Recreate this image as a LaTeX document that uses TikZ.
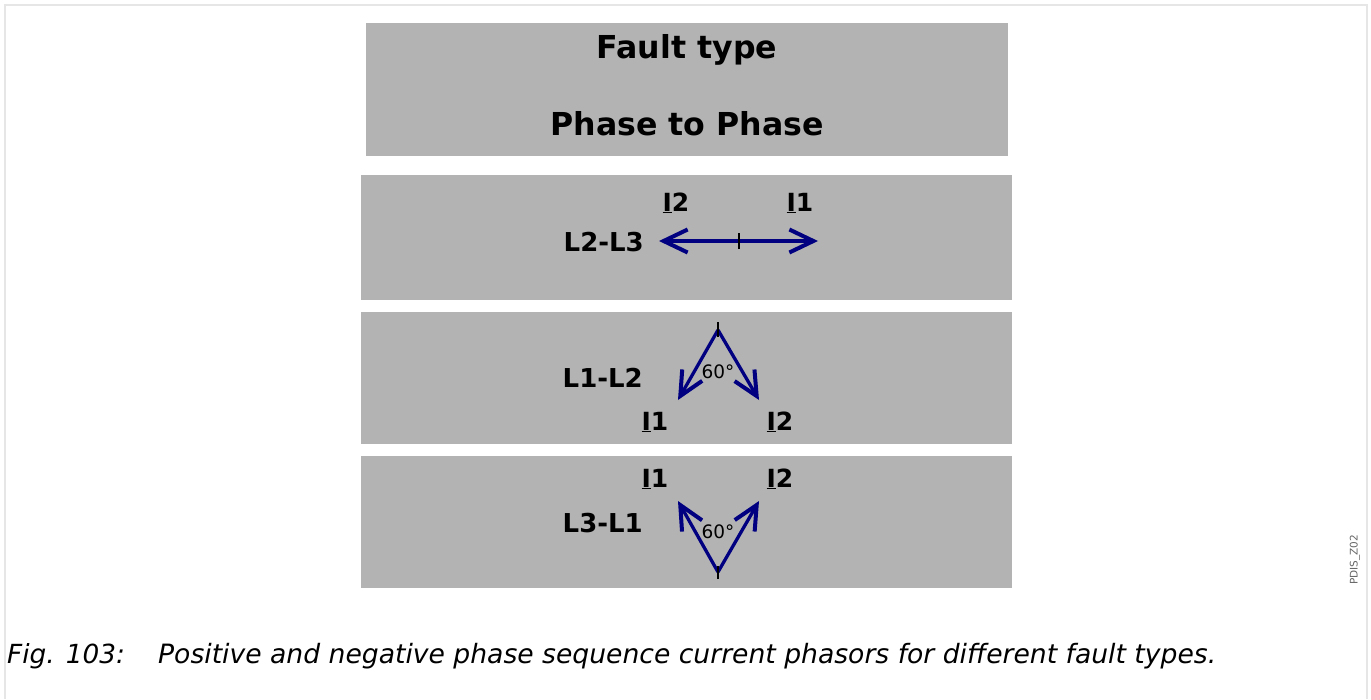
\documentclass[tikz,border=0pt]{standalone}
\usepackage{fontspec}
\setmainfont{DejaVu Sans}
\usetikzlibrary{arrows.meta}
\definecolor{boxgray}{HTML}{B3B3B3}
\definecolor{phasorblue}{HTML}{000080}
\definecolor{framegray}{HTML}{E6E6E6}

\begin{document}
\begin{tikzpicture}[x=1pt,y=-1pt,
  phasor/.style={phasorblue, line width=3.3pt, -{Straight Barb[length=24pt,width=23pt,line width=4pt]}},
  origintick/.style={black, line width=1.5pt},
  panel/.style={fill=boxgray},
  lbl/.style={anchor=base, inner sep=0pt, font=\fontsize{26}{30}\selectfont\bfseries},
  phlbl/.style={anchor=base, inner sep=0pt, font=\fontsize{25}{30}\selectfont\bfseries},
  anglbl/.style={anchor=base, inner sep=0pt, font=\fontsize{18.5}{22}\selectfont},
  titlelbl/.style={anchor=base, inner sep=0pt, font=\fontsize{31.6}{37}\selectfont\bfseries}]
\useasboundingbox (0,0) rectangle (1371,699);
\draw[framegray, line width=2pt] (5,699) -- (5,5) -- (1367,5) -- (1367,699);

% panels
\fill[panel] (366,23) rectangle (1008,156);
\fill[panel] (361,175) rectangle (1012,300);
\fill[panel] (361,312) rectangle (1012,444);
\fill[panel] (361,456) rectangle (1012,588);

% title
\node[titlelbl] (fault) at (687,58) {Fault type};
\node[titlelbl] (ptp) at (687,135) {Phase to Phase};

% L2-L3
\node[lbl, anchor=base east] (l23) at (644,251) {L2-L3};
\coordinate (o23) at (739,241);
\coordinate (a23) at (659,241);
\coordinate (b23) at (818,241);
\draw[phasor] (o23) -- (a23);
\draw[phasor] (o23) -- (b23);
\draw[origintick] ([yshift=-8pt]o23) -- ([yshift=8pt]o23);
\node[phlbl] (i2a) at (676,211) {\underline{I}2};
\node[phlbl] (i1a) at (800,211) {\underline{I}1};

% L1-L2
\node[lbl, anchor=base east] (l12) at (643,387) {L1-L2};
\coordinate (o12) at (718,330);
\coordinate (a12) at (678,400);
\coordinate (b12) at (759,400);
\draw[phasor] (o12) -- (a12);
\draw[phasor] (o12) -- (b12);
\draw[origintick] ([yshift=-7pt]o12) -- ([yshift=8pt]o12);
\node[anglbl] (ang12) at (718,378) {60°};
\node[phlbl] (i1b) at (655,430) {\underline{I}1};
\node[phlbl] (i2b) at (780,430) {\underline{I}2};

% L3-L1
\node[lbl, anchor=base east] (l31) at (643,532) {L3-L1};
\coordinate (o31) at (718,572);
\coordinate (a31) at (678,501);
\coordinate (b31) at (759,501);
\draw[phasor] (o31) -- (a31);
\draw[phasor] (o31) -- (b31);
\draw[origintick] ([yshift=-7pt]o31) -- ([yshift=6pt]o31);
\node[anglbl] (ang31) at (718,538) {60°};
\node[phlbl] (i1c) at (655,487) {\underline{I}1};
\node[phlbl] (i2c) at (780,487) {\underline{I}2};

% tag and caption
\node[rotate=90, inner sep=0pt, text=black!60, font=\fontsize{10.5}{12}\selectfont] (tag) at (1355,560) {PDIS\_Z02};
\node[anchor=base west, inner sep=0pt, font=\fontsize{26.3}{30}\selectfont\itshape] (fignum) at (7,663) {Fig. 103:};
\node[anchor=base west, inner sep=0pt, font=\fontsize{26.6}{30}\selectfont\itshape] (caption) at (158,663) {Positive and negative phase sequence current phasors for different fault types.};
\end{tikzpicture}
\end{document}
